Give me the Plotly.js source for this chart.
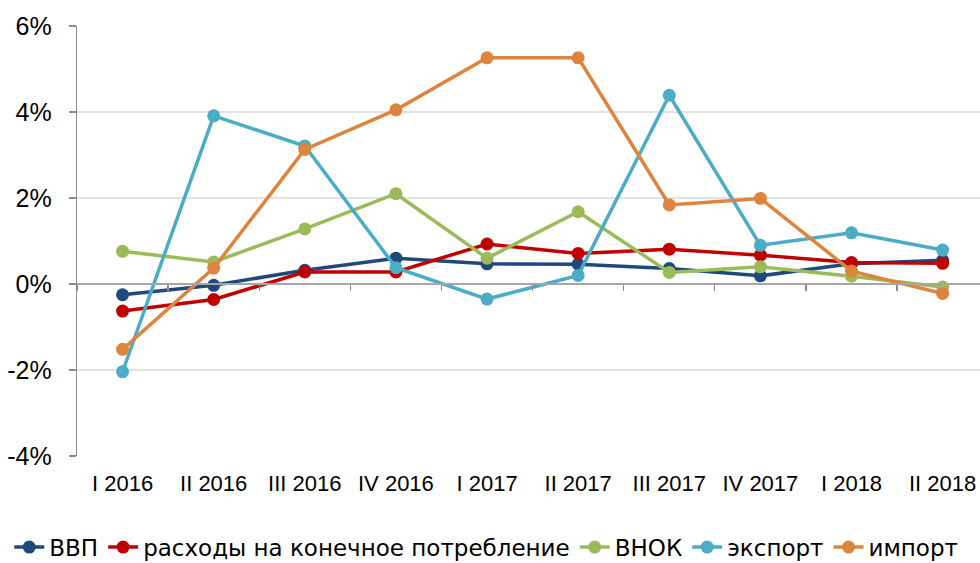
<!DOCTYPE html>
<html>
<head>
<meta charset="utf-8">
<script src="https://cdn.plot.ly/plotly-3.0.1.min.js"></script>
<style>html,body{margin:0;padding:0;background:#fff;}#chart{width:980px;height:563px;}</style>
</head>
<body>
<div id="chart"></div>
<script>
const categories = ['I 2016','II 2016','III 2016','IV 2016','I 2017','II 2017','III 2017','IV 2017','I 2018','II 2018'];
const seriesNames = ['ВВП','расходы на конечное потребление','ВНОК','экспорт','импорт'];
const gdp      = [-0.25, -0.03, 0.32, 0.60, 0.47, 0.46, 0.36, 0.19, 0.47, 0.55];
const consumption = [-0.63, -0.36, 0.28, 0.28, 0.93, 0.71, 0.81, 0.67, 0.50, 0.48];
const gfcf     = [0.76, 0.51, 1.28, 2.10, 0.60, 1.68, 0.27, 0.40, 0.18, -0.07];
const exportV  = [-2.04, 3.91, 3.21, 0.38, -0.35, 0.20, 4.39, 0.90, 1.19, 0.79];
const importV  = [-1.52, 0.37, 3.13, 4.05, 5.26, 5.26, 1.84, 1.99, 0.30, -0.22];
const yTickVals = [-4, -2, 0, 2, 4, 6];
const yTickText = ['-4%','-2%','0%','2%','4%','6%'];

const colors = ['#1F497D','#C00000','#9BBB59','#4BACC6','#DD843D'];
const values = [gdp, consumption, gfcf, exportV, importV];

const traces = values.map((v, i) => ({
  type: 'scatter',
  mode: 'lines+markers',
  name: seriesNames[i],
  x: categories,
  y: v,
  line: {color: colors[i], width: 3.5},
  marker: {color: colors[i], size: 13},
  cliponaxis: false
}));
// zero-line axis carrier (no visible data)
traces.push({type:'scatter', x:[null], y:[null], xaxis:'x2', yaxis:'y', showlegend:false, hoverinfo:'skip'});

const fam = '"Liberation Sans", Arial, sans-serif';

const layout = {
  width: 980, height: 563,
  margin: {l: 77, r: 0, t: 26, b: 107, autoexpand: false},
  paper_bgcolor: '#fff', plot_bgcolor: '#fff',
  font: {family: fam, color: '#000'},
  showlegend: true,
  xaxis: {
    type: 'category',
    range: [-0.5, 9.41],
    showgrid: false, zeroline: false, showline: false,
    ticks: '',
    ticklabelstandoff: 12,
    tickfont: {size: 22, family: fam, color: '#000'},
    fixedrange: true
  },
  xaxis2: {
    overlaying: 'x',
    anchor: 'free',
    position: 0.4,
    type: 'linear',
    range: [-0.5, 9.41],
    tickmode: 'linear', tick0: -0.5, dtick: 1,
    ticks: 'outside', ticklen: 6, tickwidth: 1.3, tickcolor: '#8C8C8C',
    showticklabels: false,
    showgrid: false, zeroline: false,
    showline: true, linecolor: '#A6A6A6', linewidth: 2
  },
  yaxis: {
    range: [-4, 6],
    tickvals: yTickVals, ticktext: yTickText,
    showgrid: true, gridcolor: '#E3E3E3', gridwidth: 1.3,
    zeroline: false,
    showline: true, linecolor: '#8C8C8C', linewidth: 1.3,
    ticks: 'outside', ticklen: 7, tickcolor: '#8C8C8C', tickwidth: 1.3,
    ticklabelstandoff: 12,
    tickfont: {size: 25, family: fam, color: '#000'},
    fixedrange: true
  },
  legend: {
    orientation: 'h',
    x: -0.075, xanchor: 'left',
    y: -0.212, yanchor: 'middle',
    font: {size: 23, family: '"DejaVu Sans", sans-serif', color: '#000'},
    itemwidth: 30,
    tracegroupgap: 0,
    bgcolor: 'rgba(0,0,0,0)'
  }
};

Plotly.newPlot('chart', traces, layout, {displayModeBar: false, staticPlot: true});
</script>
</body>
</html>
